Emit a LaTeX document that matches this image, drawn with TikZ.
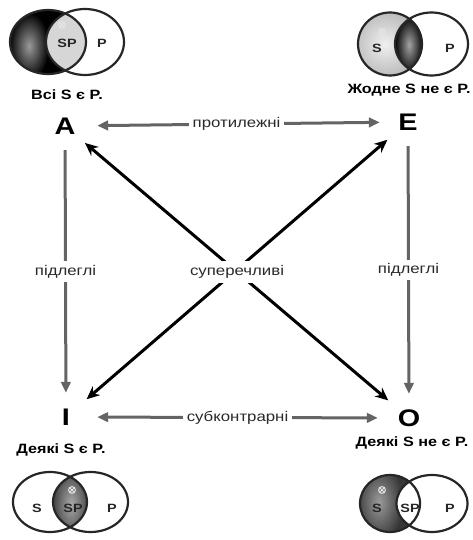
\documentclass[tikz,border=0pt]{standalone}
\usepackage{fontspec}
\setmainfont{Liberation Sans}
\usetikzlibrary{arrows.meta}
\newcommand{\stretchtxt}[1]{\scalebox{1.2}[1]{#1}}
\definecolor{arrowgray}{HTML}{646464}
\definecolor{lblcol}{HTML}{2A2A2A}
\definecolor{lenslight}{HTML}{D6D6D6}
\definecolor{cresclight}{HTML}{CFCFCF}
\definecolor{darkfill}{HTML}{363636}
\definecolor{glowgray}{HTML}{9A9A9A}
\begin{document}
\begin{tikzpicture}[x=1pt,y=-1pt,
  letter/.style={circle, minimum size=48pt, inner sep=0pt, text=black,
    font=\fontsize{24}{24}\selectfont\bfseries},
  grayarr/.style={draw=arrowgray, line width=3pt},
  tipone/.style={-{Triangle[length=11pt,width=9.5pt]}},
  tiptwo/.style={{Triangle[length=11pt,width=9.5pt]}-{Triangle[length=11pt,width=9.5pt]}},
  diagarr/.style={draw=black, line width=3pt,
    {Stealth[length=13pt,width=11.5pt]}-{Stealth[length=13pt,width=11.5pt]}},
  lbl/.style={fill=white, inner sep=4pt, text=lblcol,
    font=\fontsize{14}{14}\selectfont},
  captxt/.style={inner sep=0pt, text=black, font=\fontsize{13.5}{13.5}\selectfont\bfseries},
  vtxt/.style={inner sep=0pt, text=black!85, font=\fontsize{12}{12}\selectfont\bfseries},
  vline/.style={draw=black!85, line width=2.2pt},
  crossmk/.style={draw=white!80!gray, line width=1pt}
]
\useasboundingbox (0,0) rectangle (473,540);

% ---------- corner letters ----------
\node[letter] (A) at (65,126) {\stretchtxt{A}};
\node[letter] (E) at (408,122) {\stretchtxt{E}};
\node[letter] (I) at (66,417) {\stretchtxt{I}};
\node[letter] (O) at (409,418) {\stretchtxt{O}};

% ---------- diagonals (contradictories) ----------
\draw[diagarr, shorten <=2pt, shorten >=3pt] (A) -- (O);
\draw[diagarr, shorten <=3pt, shorten >=3pt] (E) -- (I);
\path (A) -- (O) node[midway, lbl] (contra) {\stretchtxt{суперечливі}};

% ---------- horizontals ----------
\draw[grayarr, tiptwo, shorten <=8pt, shorten >=4pt] (A) -- (E)
  node[midway, lbl] (contr) {\stretchtxt{протилежні}};
\draw[grayarr, tiptwo, shorten <=7pt, shorten >=7pt] (I) -- (O)
  node[midway, lbl] (subc) {\stretchtxt{субконтрарні}};

% ---------- verticals ----------
\draw[grayarr, tipone] (A) -- (I)
  node[midway, lbl] (subl) {\stretchtxt{підлеглі}};
\draw[grayarr, tipone] (E) -- (O)
  node[midway, lbl] (subr) {\stretchtxt{підлеглі}};

% ---------- captions ----------
\node[captxt] (capA) at (67,95) {\stretchtxt{Всі S є P.}};
\node[captxt] (capE) at (409,90) {\stretchtxt{Жодне S не є P.}};
\node[captxt] (capI) at (61,450) {\stretchtxt{Деякі S є P.}};
\node[captxt] (capO) at (412,443) {\stretchtxt{Деякі S не є P.}};

% ---------- Venn A: all S are P ----------
\begin{scope}
  \clip (48,42) ellipse (38 and 32);
  \fill[black] (48,42) ellipse (38 and 32);
  \shade[inner color=glowgray, outer color=black] (29,46) ellipse (20 and 34);
\end{scope}
\begin{scope}
  \clip (48,42) ellipse (38 and 32);
  \fill[lenslight] (85,42) ellipse (39 and 33);
\end{scope}
\draw[vline] (48,42) ellipse (38 and 32);
\draw[vline] (85,42) ellipse (39 and 33);
\draw[crossmk] (62,25) circle (3.4) (59.6,22.6) -- (64.4,27.4) (59.6,27.4) -- (64.4,22.6);
\node[vtxt] at (67,43) {\stretchtxt{SP}};
\node[vtxt] at (102,43) {\stretchtxt{P}};

% ---------- Venn E: no S is P ----------
\begin{scope}
  \clip (390,44) ellipse (32 and 31.5);
  \shade[inner color=white!88!gray, outer color=cresclight!85!black] (385,44) ellipse (40 and 40);
\end{scope}
\begin{scope}
  \clip (390,44) ellipse (32 and 31.5);
  \clip (431.5,44) ellipse (36.5 and 31.5);
  \fill[black] (408,44) ellipse (20 and 32);
  \shade[inner color=glowgray!90!white, outer color=black] (409,45) ellipse (14 and 30);
\end{scope}
\draw[vline] (390,44) ellipse (32 and 31.5);
\draw[vline] (431.5,44) ellipse (36.5 and 31.5);
\draw[crossmk] (382,32) circle (3.4) (379.6,29.6) -- (384.4,34.4) (379.6,34.4) -- (384.4,29.6);
\node[vtxt] at (377,48) {\stretchtxt{S}};
\node[vtxt] at (450,48) {\stretchtxt{P}};

% ---------- Venn I: some S are P ----------
\begin{scope}
  \clip (50,502) ellipse (37 and 30);
  \clip (90.5,502) ellipse (37.5 and 30);
  \fill[darkfill] (70,502) ellipse (20 and 32);
  \shade[inner color=glowgray!85!white, outer color=darkfill] (71,504) ellipse (20 and 40);
\end{scope}
\draw[vline] (50,502) ellipse (37 and 30);
\draw[vline] (90.5,502) ellipse (37.5 and 30);
\draw[crossmk] (72,490) circle (3.4) (69.6,487.6) -- (74.4,492.4) (69.6,492.4) -- (74.4,487.6);
\node[vtxt] at (37,508) {\stretchtxt{S}};
\node[vtxt] at (73,508) {\stretchtxt{SP}};
\node[vtxt] at (112,508) {\stretchtxt{P}};

% ---------- Venn O: some S are not P ----------
\begin{scope}
  \clip (390,503.5) ellipse (30 and 28.5);
  \fill[darkfill] (390,503.5) ellipse (30 and 28.5);
  \shade[inner color=glowgray, outer color=darkfill] (379,502) ellipse (24 and 40);
\end{scope}
\begin{scope}
  \clip (390,503.5) ellipse (30 and 28.5);
  \fill[white] (432,503.5) ellipse (35.5 and 28.5);
\end{scope}
\draw[vline] (390,503.5) ellipse (30 and 28.5);
\draw[vline] (432,503.5) ellipse (35.5 and 28.5);
\draw[crossmk] (382,490) circle (3.4) (379.6,487.6) -- (384.4,492.4) (379.6,492.4) -- (384.4,487.6);
\node[vtxt] at (377,508) {\stretchtxt{S}};
\node[vtxt] at (410,508) {\stretchtxt{SP}};
\node[vtxt] at (450,508) {\stretchtxt{P}};
\end{tikzpicture}
\end{document}
